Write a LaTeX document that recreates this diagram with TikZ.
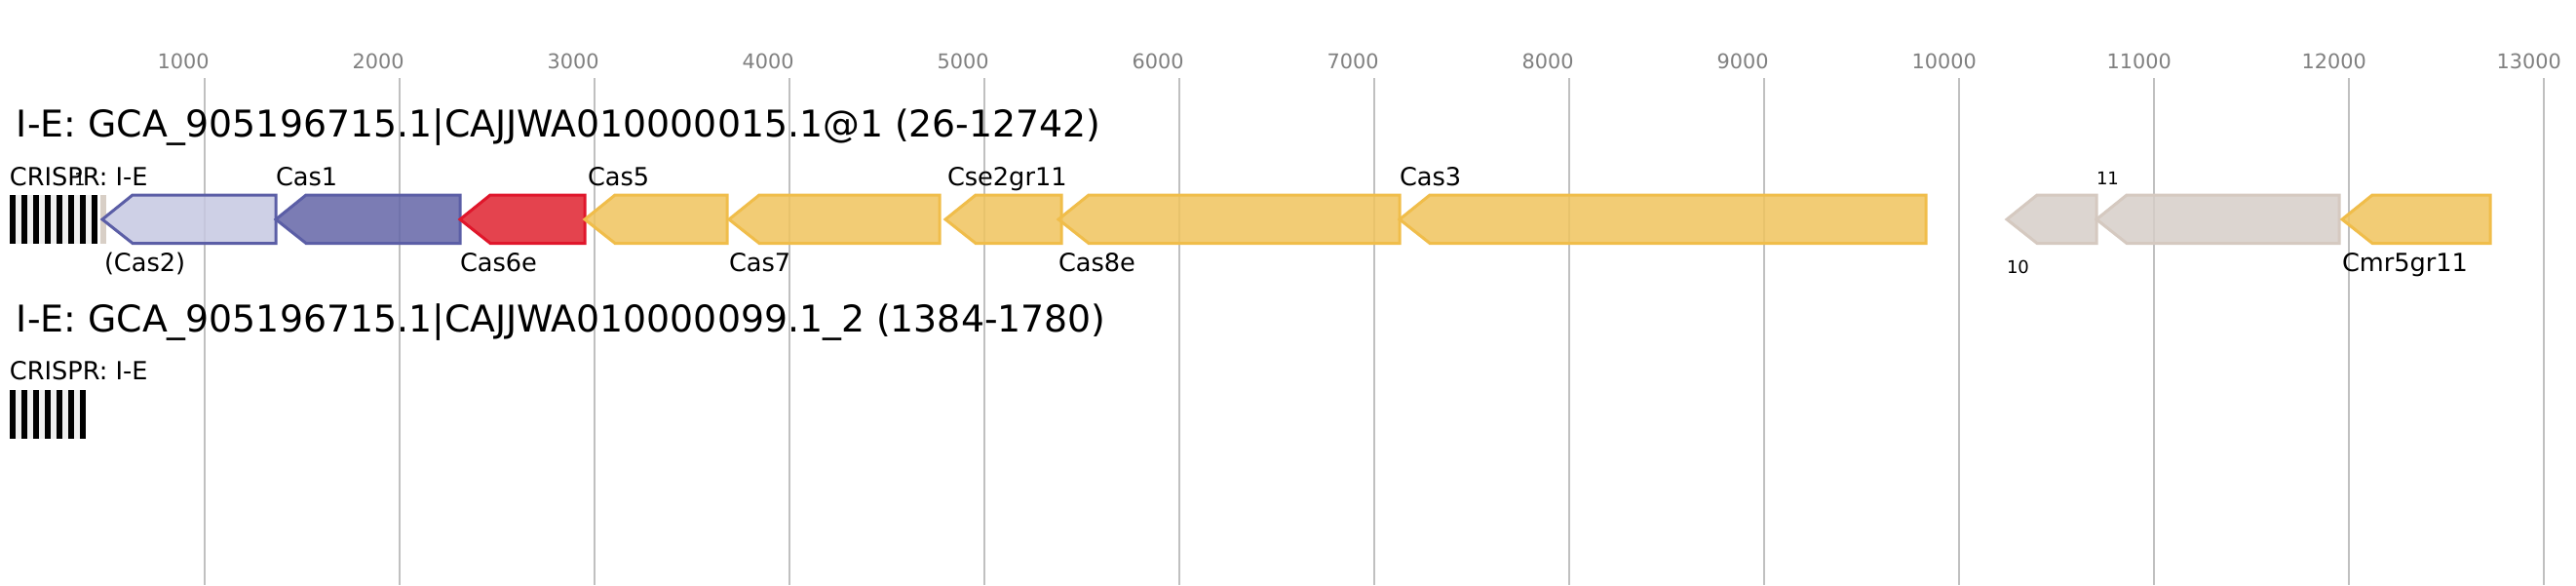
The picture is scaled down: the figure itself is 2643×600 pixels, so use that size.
\documentclass[tikz,border=0pt]{standalone}
\usepackage{fontspec}
\setmainfont{DejaVu Sans}
\usetikzlibrary{positioning}
\definecolor{gridgray}{HTML}{C0C0C0}
\definecolor{tickgray}{HTML}{808080}
\definecolor{adaptlight}{HTML}{C6C8E2}
\definecolor{adaptdark}{HTML}{6466A8}
\definecolor{adaptline}{HTML}{5B5EA6}
\definecolor{cutfill}{HTML}{E02330}
\definecolor{cutline}{HTML}{E0162B}
\definecolor{cascfill}{HTML}{F0C45E}
\definecolor{cascline}{HTML}{F0BD4A}
\definecolor{otherfill}{HTML}{D6CEC8}
\definecolor{otherline}{HTML}{D5C9C0}
\definecolor{gapgray}{HTML}{EFEFEF}
\definecolor{tanbar}{HTML}{D8CFC6}

% left-pointing gene: #1 tip x, #2 right end x, #3 style, #4 top y
\newcommand{\genearrow}[4]{%
  \draw[#3] (#1,#4+25) -- (#1+31,#4) -- (#2,#4) -- (#2,#4+49.5) -- (#1+31,#4+49.5) -- cycle;}

\begin{document}
\begin{tikzpicture}[
    x=0.5pt, y=-0.5pt,
    every node/.style={inner sep=0pt, outer sep=0pt},
    gene/.style={line width=1.5pt, line join=miter, fill opacity=0.85},
    cas2gene/.style={gene, draw=adaptline, fill=adaptlight},
    cas1gene/.style={gene, draw=adaptline, fill=adaptdark},
    cas6gene/.style={gene, draw=cutline, fill=cutfill},
    cascgene/.style={gene, draw=cascline, fill=cascfill},
    othergene/.style={gene, draw=otherline, fill=otherfill},
    tick/.style={anchor=base west, text=tickgray, font=\fontsize{10.4}{12}\selectfont},
    title/.style={anchor=base west, font=\fontsize{18.9}{22}\selectfont},
    label/.style={anchor=base west, font=\fontsize{12.8}{15}\selectfont},
    small/.style={anchor=base west, font=\fontsize{9}{10}\selectfont}
  ]
  \useasboundingbox (0,0) rectangle (2643,600);
  \fill[white] (0,0) rectangle (2643,600);

  % Scale ruler
  \foreach \k in {1,...,13} {
    \draw[gridgray, line width=1pt] (9.7+200*\k,80) -- (9.7+200*\k,600);
    \node[tick] (tick\k) at (9.7+200*\k-48,70) {\k000};
  }

  % Track 1
  \node[title] (title1) at (17,140) {I-E: GCA\_905196715.1|CAJJWA010000015.1@1 (26-12742)};
  \node[label] (crispr1) at (10,190) {CRISPR: I-E};
  \fill[gapgray] (10,200) rectangle (100,249.5);
  \foreach \i in {0,...,7}
    \fill[black] (10+12*\i,200) rectangle (16+12*\i,249.5);
  \fill[tanbar] (103,200) rectangle (109,249.5);
  \node[small] (n1) at (76,190) {1};

  \genearrow{105}{283}{cas2gene}{200}
  \genearrow{283}{472}{cas1gene}{200}
  \genearrow{472}{600}{cas6gene}{200}
  \genearrow{600}{746}{cascgene}{200}
  \genearrow{748}{964}{cascgene}{200}
  \genearrow{970}{1089}{cascgene}{200}
  \genearrow{1086}{1436}{cascgene}{200}
  \genearrow{1436}{1976}{cascgene}{200}
  \genearrow{2059}{2151}{othergene}{200}
  \genearrow{2151}{2400}{othergene}{200}
  \genearrow{2403}{2555}{cascgene}{200}

  % Gene names
  \node[label] (cas2) at (107,278) {(Cas2)};
  \node[label] (cas1) at (283,190) {Cas1};
  \node[label] (cas6e) at (472,278) {Cas6e};
  \node[label] (cas5) at (603,190) {Cas5};
  \node[label] (cas7) at (748,278) {Cas7};
  \node[label] (cse2) at (972,190) {Cse2gr11};
  \node[label] (cas8e) at (1086,278) {Cas8e};
  \node[label] (cas3) at (1436,190) {Cas3};
  \node[small] (n10) at (2059,280) {10};
  \node[small] (n11) at (2151,189) {11};
  \node[label] (cmr5) at (2403,278) {Cmr5gr11};

  % Track 2
  \node[title] (title2) at (17,340) {I-E: GCA\_905196715.1|CAJJWA010000099.1\_2 (1384-1780)};
  \node[label] (crispr2) at (10,389) {CRISPR: I-E};
  \fill[gapgray] (10,400) rectangle (88,449.5);
  \foreach \i in {0,...,6}
    \fill[black] (10+12*\i,400) rectangle (16+12*\i,449.5);
\end{tikzpicture}
\end{document}
